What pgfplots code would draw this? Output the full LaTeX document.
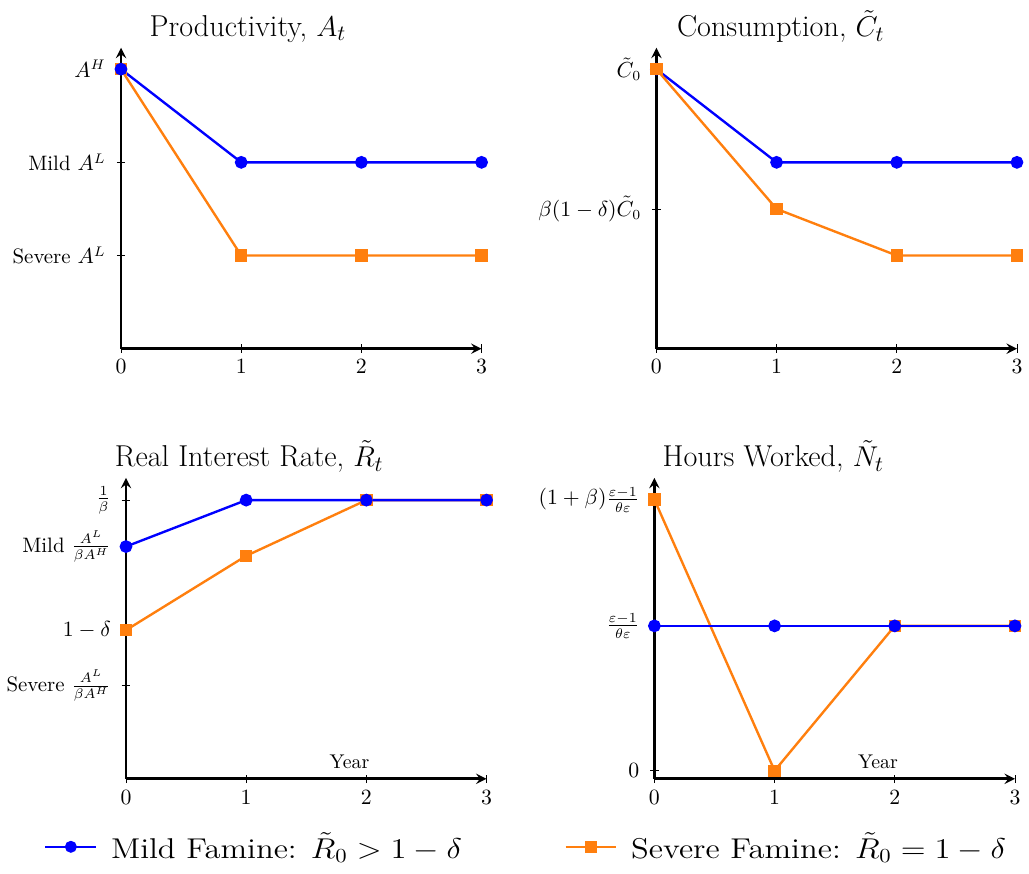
\documentclass[border=0pt]{standalone}
\usepackage{graphicx}
\usepackage{pgfplots}
\pgfplotsset{compat=1.18}
\definecolor{myblue}{RGB}{0,0,255}
\definecolor{myorange}{RGB}{255,127,14}
\pgfplotsset{
  base/.style={
    scale only axis, width=181.5pt, height=151.5pt,
    axis lines=left,
    axis line style={line width=1.3pt},
    xmin=0, xmax=3, xtick={0,1,2,3},
    tick style={black, thin},
    ticklabel style={font=\fontsize{10.5}{12}\selectfont},
    yticklabel style={xshift=-2pt},
    clip=false,
    title style={anchor=south, font=\fontsize{15.2}{18}\selectfont, yshift=-7pt},
    every axis plot/.append style={line width=1.2pt},
  },
  mild/.style={myblue, mark=*, mark size=2.6pt, mark options={solid, fill=myblue, draw=myblue}},
  severe/.style={myorange, mark=square*, mark size=2.5pt, mark options={solid, fill=myorange, draw=myorange}},
}
\begin{document}
\begin{tikzpicture}
% Top-left: Productivity
\begin{axis}[base, at={(61pt,-175pt)}, anchor=south west,
  ymin=0, ymax=3.23,
  ytick={1,2,3}, yticklabels={Severe $A^L$, Mild $A^L$, $A^H$},
  title={Productivity, $A_t$}, title style={at={(axis description cs:0.352,1)}}]
\addplot[severe] coordinates {(0,3) (1,1) (2,1) (3,1)};
\addplot[mild] coordinates {(0,3) (1,2) (2,2) (3,2)};
\end{axis}
% Top-right: Consumption
\begin{axis}[base, at={(330.5pt,-175pt)}, anchor=south west,
  ymin=0, ymax=3.23,
  ytick={1.5,3}, yticklabels={$\beta(1-\delta)\tilde{C}_0$, $\tilde{C}_0$},
  title={Consumption, $\tilde{C}_t$}, title style={at={(axis description cs:0.345,1)}}]
\addplot[mild] coordinates {(0,3) (1,2) (2,2) (3,2)};
\addplot[severe] coordinates {(0,3) (1,1.5) (2,1) (3,1)};
\end{axis}
% Bottom-left: Real interest rate
\begin{axis}[base, at={(63.5pt,-391.5pt)}, anchor=south west,
  ymin=0, ymax=3.24,
  ytick={1,1.6,2.5,3},
  yticklabels={Severe $\frac{A^L}{\beta A^H}$, $1-\delta$, Mild $\frac{A^L}{\beta A^H}$, $\frac{1}{\beta}$},
  xlabel={Year}, xlabel style={at={(axis description cs:0.62,0)}, anchor=south, inner sep=1pt, yshift=4pt},
  title={Real Interest Rate, $\tilde{R}_t$}, title style={at={(axis description cs:0.342,1)}},
  legend style={at={(axis description cs:1.113,-0.226)}, anchor=center, draw=none,
    font=\Large,
    legend columns=2, /tikz/every even column/.append style={column sep=1.75cm}},
  legend cell align=left,
  legend image code/.code={\draw[mark repeat=2,mark phase=2,line width=0.8pt] plot coordinates {(0cm,0cm) (0.45cm,0cm) (0.9cm,0cm)};}]
\addplot[severe, forget plot] coordinates {(0,1.6) (1,2.4) (2,3) (3,3)};
\addplot[mild] coordinates {(0,2.5) (1,3) (2,3) (3,3)};
\addlegendentry{\hspace*{5pt}\scalebox{1.14}[1]{Mild Famine: $\tilde{R}_0 > 1-\delta$}}
\addlegendimage{severe}
\addlegendentry{\hspace*{5pt}\scalebox{1.14}[1]{Severe Famine: $\tilde{R}_0 = 1-\delta$}}
\end{axis}
% Bottom-right: Hours worked
\begin{axis}[base, at={(329.5pt,-391.5pt)}, anchor=south west,
  ymin=-0.087, ymax=3.155,
  ytick={0,1.56,2.92},
  yticklabels={$0$, $\frac{\varepsilon-1}{\theta\varepsilon}$, $(1+\beta)\frac{\varepsilon-1}{\theta\varepsilon}$},
  xlabel={Year}, xlabel style={at={(axis description cs:0.62,0)}, anchor=south, inner sep=1pt, yshift=4pt},
  title={Hours Worked, $\tilde{N}_t$}, title style={at={(axis description cs:0.33,1)}}]
\addplot[severe] coordinates {(0,2.92) (1,0) (2,1.56) (3,1.56)};
\addplot[mild] coordinates {(0,1.56) (1,1.56) (2,1.56) (3,1.56)};
\end{axis}
\path ([yshift=2pt]current bounding box.north) -- ([yshift=-2pt]current bounding box.south);
\end{tikzpicture}
\end{document}
